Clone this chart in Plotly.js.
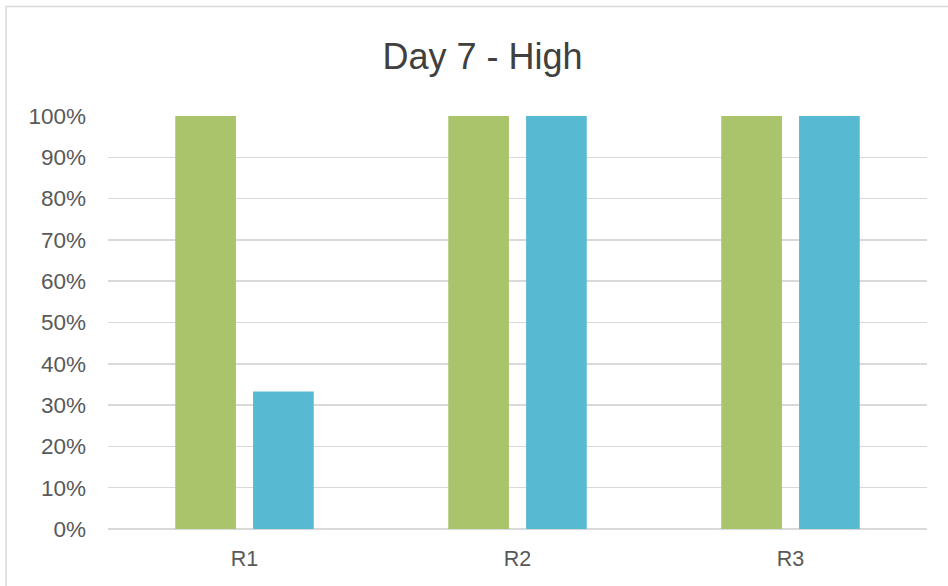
<!DOCTYPE html>
<html>
<head>
<meta charset="utf-8">
<script src="https://cdn.plot.ly/plotly-3.0.1.min.js"></script>
<style>
html,body{margin:0;padding:0;background:#fff;}
#chart{width:948px;height:586px;}
</style>
</head>
<body>
<div id="chart"></div>
<script>
const categories = ["R1", "R2", "R3"];
const seriesA = [1.0, 1.0, 1.0];
const seriesB = [0.333, 1.0, 1.0];
const tickVals = [0, 0.1, 0.2, 0.3, 0.4, 0.5, 0.6, 0.7, 0.8, 0.9, 1.0];
const tickText = ["0%", "10%", "20%", "30%", "40%", "50%", "60%", "70%", "80%", "90%", "100%"];

const yfont = {family: "Liberation Sans, Arial, sans-serif", size: 22.5, color: "#595959"};
const xfont = {family: "Liberation Sans, Arial, sans-serif", size: 21.5, color: "#595959"};

const data = [
  {type: "bar", x: categories, y: seriesA, marker: {color: "#AAC46C"}, hoverinfo: "none"},
  {type: "bar", x: categories, y: seriesB, marker: {color: "#58BAD2"}, hoverinfo: "none"}
];

const layout = {
  width: 948, height: 586,
  margin: {l: 108, r: 21, t: 116, b: 57},
  paper_bgcolor: "#ffffff", plot_bgcolor: "rgba(0,0,0,0)",
  showlegend: false,
  barmode: "group",
  bargap: 0.43,
  bargroupgap: 0.22,
  title: {text: "Day 7 - High", font: {family: "Liberation Sans, Arial, sans-serif", size: 36, color: "#404040"}, x: 0.509, xanchor: "center", y: 0.904, yanchor: "middle"},
  xaxis: {
    type: "category", tickfont: xfont, showgrid: false, zeroline: false, showline: false,
    ticks: "", ticklabelstandoff: 14
  },
  yaxis: {
    range: [0, 1.0], tickvals: tickVals, ticktext: tickText, tickfont: yfont,
    showgrid: true, gridcolor: "#D9D9D9", gridwidth: 1.5, zeroline: true, zerolinecolor: "#D9D9D9", zerolinewidth: 1.5,
    showline: false, ticks: "", ticklabelstandoff: 21, fixedrange: true
  },
  shapes: [{
    type: "rect", xref: "paper", yref: "paper", layer: "below",
    x0: (6 - 108) / 819, x1: 1.2, y0: -0.3, y1: 1 + (116 - 6.5) / 413,
    line: {color: "#D9D9D9", width: 1.5}, fillcolor: "rgba(0,0,0,0)"
  }]
};

Plotly.newPlot("chart", data, layout, {displayModeBar: false, staticPlot: true});
</script>
</body>
</html>
